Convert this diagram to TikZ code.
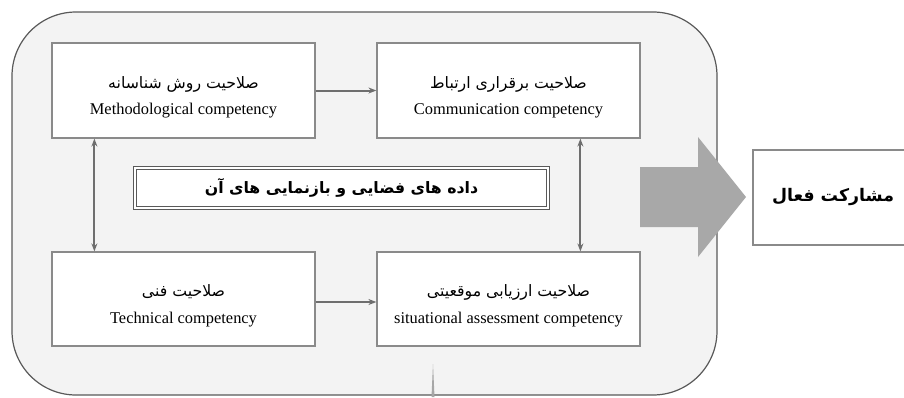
\documentclass[tikz,border=0pt]{standalone}
\usepackage{fontspec}
\setmainfont{Liberation Serif}
\newfontfamily\arabicfont[Script=Arabic]{DejaVu Sans}
\TeXXeTstate=1
\usetikzlibrary{calc,arrows.meta}
\definecolor{bgfill}{HTML}{F3F3F3}
\definecolor{boxline}{HTML}{8A8A8A}
\definecolor{connline}{HTML}{6E6E6E}
\definecolor{bigarrow}{HTML}{A8A8A8}
\tikzset{
  compbox/.style={draw=boxline, line width=0.9pt, fill=white, minimum width=197.25pt, minimum height=71.25pt, inner sep=0pt, align=center},
  conn/.style={draw=connline, line width=1.5pt, -{Stealth[length=6pt,width=4.5pt]}},
  conn2/.style={draw=connline, line width=1.5pt, {Stealth[length=6pt,width=4.5pt]}-{Stealth[length=6pt,width=4.5pt]}},
}
\newcommand{\twolines}[2]{\rule{0pt}{19pt}{\arabicfont\fontsize{11.8}{13}\selectfont\beginR #1\endR}\\[8pt]{\fontsize{12.3}{14}\selectfont #2}}
\begin{document}
\begin{tikzpicture}[x=0.75pt,y=-0.75pt]
\useasboundingbox (0,0) rectangle (904,397);
% outer rounded panel
\draw[draw=gray!70!black, line width=0.9pt, fill=bgfill, rounded corners=48pt] (12,12) rectangle (717,395);
% component boxes
\node[compbox] (meth) at (183.5,90.5) {\twolines{صلاحیت روش شناسانه}{Methodological competency}};
\node[compbox] (comm) at (508.5,90.5) {\twolines{صلاحیت برقراری ارتباط}{Communication competency}};
\node[compbox, minimum height=70.5pt] (tech) at (183.5,299) {\twolines{صلاحیت فنی}{Technical competency}};
\node[compbox, minimum height=70.5pt] (sit) at (508.5,299) {\twolines{صلاحیت ارزیابی موقعیتی}{situational assessment competency}};
% centre box
\node[draw=gray!70!black, double=white, double distance=1.5pt, line width=0.9pt, fill=white, minimum width=310pt, minimum height=30pt, inner sep=0pt] (data) at (341.5,188)
  {\arabicfont\bfseries\fontsize{11.8}{13}\selectfont\beginR داده های فضایی و بازنمایی های آن\endR};
% connectors
\draw[conn] (meth) -- (comm);
\draw[conn] ($(tech.east)+(0,3)$) -- ($(sit.west)+(0,3)$);
\draw[conn2] ($(meth.south west)+(43,0)$) -- ($(tech.north west)+(43,0)$);
\draw[conn2] ($(comm.south west)+(204,0)$) -- ($(sit.north west)+(204,0)$);
% small upward wedge at the bottom
\fill[gray!70] (431.5,397) -- (434.5,397) -- (433,364) -- cycle;
% big gray arrow
\fill[bigarrow] (640,167) -- (698,167) -- (698,137) -- (746,197) -- (698,257) -- (698,227) -- (640,227) -- cycle;
% result box
\node[draw=boxline, line width=0.9pt, fill=white, minimum width=120pt, minimum height=71.25pt, inner sep=0pt] (part) at (833,197.5)
  {\arabicfont\bfseries\fontsize{13}{15}\selectfont\beginR مشارکت فعال\endR};
\end{tikzpicture}
\end{document}
